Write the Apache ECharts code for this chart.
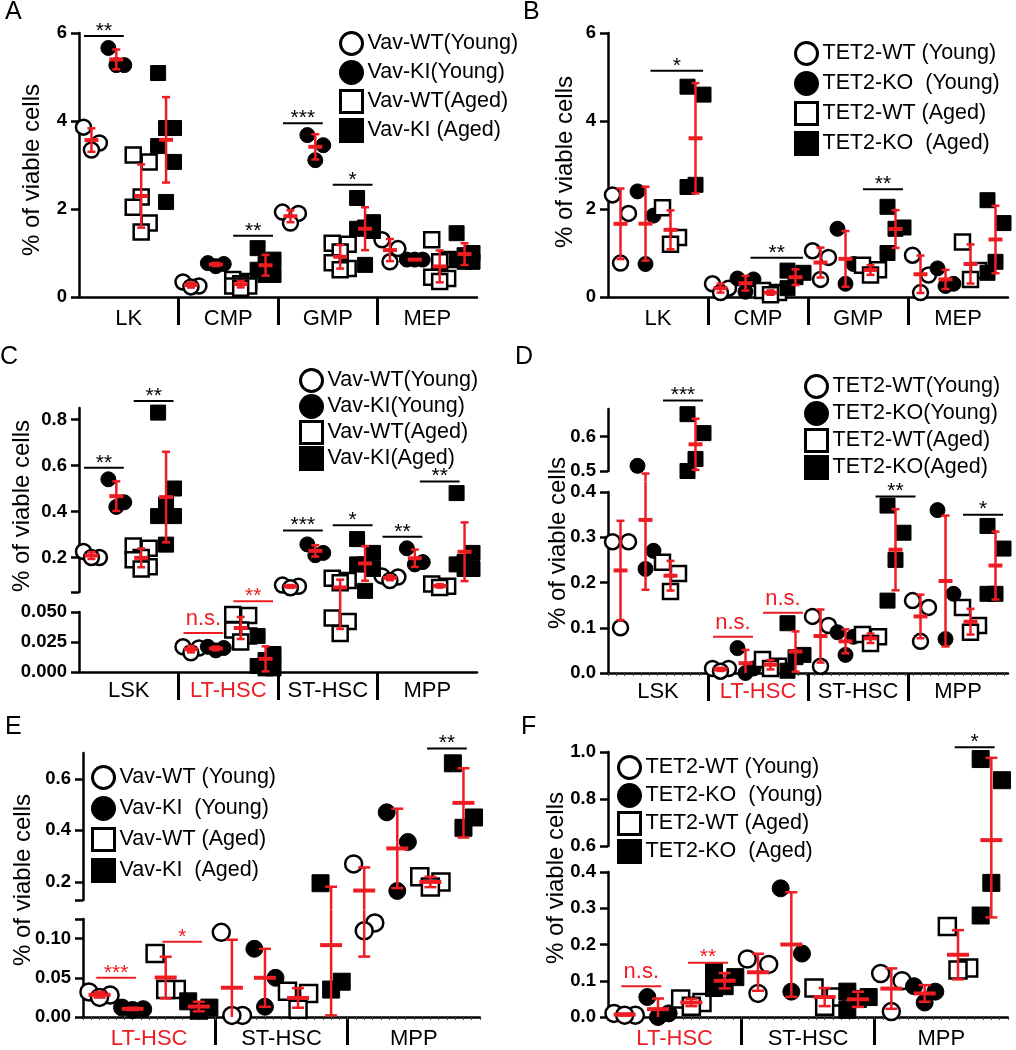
<!DOCTYPE html>
<html><head><meta charset="utf-8">
<script src="https://cdn.jsdelivr.net/npm/echarts@6/dist/echarts.min.js"></script>
<style>html,body{margin:0;padding:0;background:#fff}#c{width:1016px;height:1050px}</style>
</head><body><div id="c"></div>
<script>
// ---------------- DATA ----------------
// Panel A
const A_categories = ['LK','CMP','GMP','MEP'];
const A_legend = ['Vav-WT(Young)','Vav-KI(Young)','Vav-WT(Aged)','Vav-KI (Aged)'];
const A_wtYoung = [[3.86,3.34,3.5],[0.34,0.23,0.25],[1.93,1.9,1.68],[1.3,1.1,0.8]];
const A_kiYoung = [[5.66,5.27,5.27],[0.77,0.7,0.75],[3.68,3.45,3.11],[0.85,0.85,0.85]];
const A_wtAged  = [[3.07,3.23,2.27,2.04,1.68,1.48],[0.4,0.3,0.25,0.25,0.35,0.2],[1.22,1.2,1.02,0.78,0.62,0.65],[1.3,0.85,0.8,0.45,0.35,0.42]];
const A_kiAged  = [[5.09,3.84,3.84,3.43,3.07,2.16],[1.11,0.85,0.75,0.5,0.5,0.62],[2.25,1.7,1.58,1.55,1.5,0.73],[1.45,1.0,0.95,0.8,0.8,0.85]];
const A_yTickLabels = ['0','2','4','6'];
const A_sig = [[0,1,5.93,'**'],[6,7,1.39,'**'],[8,9,3.95,'***'],[10,11,2.55,'*']];

// Panel B
const B_categories = ['LK','CMP','GMP','MEP'];
const B_legend = ['TET2-WT (Young)','TET2-KO  (Young)','TET2-WT (Aged)','TET2-KO  (Aged)'];
const B_wtYoung = [[2.32,1.9,0.77],[0.3,0.1,0.2],[1.05,0.9,0.4],[0.95,0.5,0.1]];
const B_koYoung = [[2.4,1.85,0.75],[0.42,0.4,0.12],[1.55,0.75,0.3],[0.65,0.25,0.3]];
const B_wtAged  = [[2.03,1.35,1.2],[0.15,0.1,0.05],[0.72,0.62,0.5],[1.25,0.6,0.4]];
const B_koAged  = [[4.78,4.6,2.55,2.5],[0.6,0.55,0.45,0.2],[2.05,1.58,1.55,1.0],[2.2,1.68,0.8,0.55]];
const B_yTickLabels = ['0','2','4','6'];
const B_sig = [[1.5,3,5.14,'*'],[5.5,7,0.89,'**'],[10,11,2.45,'**']];

// Panel C
const C_categories = ['LSK','LT-HSC','ST-HSC','MPP'];
const C_legend = ['Vav-WT(Young)','Vav-KI(Young)','Vav-WT(Aged)','Vav-KI(Aged)'];
const C_wtYoung = [[0.226,0.2,0.2],[0.021,0.016,0.02],[0.08,0.068,0.075],[0.12,0.1,0.115]];
const C_kiYoung = [[0.54,0.44,0.42],[0.021,0.018,0.02],[0.257,0.21,0.22],[0.24,0.17,0.18]];
const C_wtAged  = [[0.25,0.24,0.2,0.19,0.16,0.15],[0.048,0.047,0.035,0.035,0.03,0.025],[0.11,0.1,0.09,0.045,0.042,0.032],[0.085,0.075,0.07]];
const C_kiAged  = [[0.83,0.5,0.43,0.38,0.38,0.256],[0.03,0.015,0.01,0.005,0.003,0.003],[0.28,0.22,0.17,0.17,0.15,0.055],[0.48,0.22,0.18,0.17,0.15,0.15]];
const C_yLowerLabels = ['0.000','0.025','0.050'];
const C_yUpperLabels = ['0.2','0.4','0.6','0.8'];
const C_sig = [[0,1,0.59,'**',1],[2,3,0.88,'**',1],[4,5,0.0325,'n.s.',0],[6,7,0.059,'**',0],[8,9,0.317,'***',1],[10,11,0.34,'*',1],[12,13,0.29,'**',1],[13.5,14.5,0.53,'**',1]];

// Panel D
const D_categories = ['LSK','LT-HSC','ST-HSC','MPP'];
const D_legend = ['TET2-WT(Young)','TET2-KO(Young)','TET2-WT(Aged)','TET2-KO(Aged)'];
const D_wtYoung = [[0.29,0.29,0.1],[0.01,0.004,0.01],[0.125,0.105,0.015],[0.16,0.145,0.07]];
const D_koYoung = [[0.515,0.27,0.23],[0.055,0.01,0.0],[0.09,0.08,0.04],[0.36,0.175,0.075]];
const D_wtAged  = [[0.245,0.22,0.18],[0.03,0.01,0.015],[0.085,0.08,0.065],[0.145,0.105,0.09]];
const D_koAged  = [[0.665,0.61,0.535,0.5],[0.11,0.04,0.035,0.005],[0.37,0.31,0.25,0.16],[0.325,0.275,0.175,0.175]];
const D_yLowerLabels = ['0.0','0.1','0.2','0.3','0.4'];
const D_yUpperLabels = ['0.5','0.6'];
const D_sig = [[2,3,0.705,'***',1],[4,5,0.08,'n.s.',0],[6,7,0.133,'n.s.',0],[10.5,11.5,0.39,'**',0],[14,15,0.35,'*',0]];

// Panel E
const E_categories = ['LT-HSC','ST-HSC','MPP'];
const E_legend = ['Vav-WT (Young)','Vav-KI  (Young)','Vav-WT (Aged)','Vav-KI  (Aged)'];
const E_wtYoung = [[0.032,0.025,0.028],[0.108,0.002,0.002],[0.27,0.11,0.12]];
const E_kiYoung = [[0.012,0.01,0.009],[0.087,0.05,0.013],[0.47,0.355,0.165]];
const E_wtAged  = [[0.081,0.035,0.035],[0.033,0.03,0.01],[0.22,0.2,0.18]];
const E_kiAged  = [[0.02,0.012,0.008],[0.195,0.045,0.035],[0.66,0.45,0.41]];
const E_yLowerLabels = ['0.00','0.05','0.10'];
const E_yUpperLabels = ['0.2','0.4','0.6'];
const E_sig = [[0,1,0.05,'***',0],[2,3,0.096,'*',0],[10,11,0.717,'**',1]];

// Panel F
const F_categories = ['LT-HSC','ST-HSC','MPP'];
const F_legend = ['TET2-WT (Young)','TET2-KO  (Young)','TET2-WT (Aged)','TET2-KO  (Aged)'];
const F_wtYoung = [[0.005,0.005,0.01],[0.16,0.145,0.065],[0.12,0.1,0.015]];
const F_koYoung = [[0.055,0.01,0.0],[0.355,0.175,0.07],[0.085,0.07,0.04]];
const F_wtAged  = [[0.05,0.04,0.03],[0.08,0.055,0.03],[0.25,0.13,0.135]];
const F_koAged  = [[0.125,0.11,0.085,0.08],[0.07,0.055,0.05,0.02],[0.97,0.88,0.37,0.28]];
const F_yLowerLabels = ['0.0','0.1','0.2','0.3','0.4'];
const F_yUpperLabels = ['0.6','0.8','1.0'];
const F_sig = [[0,1,0.085,'n.s.',0],[2,3,0.15,'**',0],[10,11,1.02,'*',1]];

// ---------------- LAYOUT / STYLE ----------------
const RED = '#ee1d23';
const FF = '"Liberation Sans", Arial, Helvetica, sans-serif';
const JIT = [-0.32, 0.32, 0];

const panels = [
  {key:'A', cats:A_categories, names:A_legend, groups:[A_wtYoung,A_kiYoung,A_wtAged,A_kiAged], sig:A_sig,
   left:79, width:398, segs:[{min:0,max:6,top:33,height:264,labels:A_yTickLabels}],
   title:[32,170], letter:[5,0], legend:{left:339,top:31,size:22,gap:4},
   sym:15, spread:1, pad:0.3, meanHalf:7, capHalf:4, minorStep:0, xLabelMargin:11},
  {key:'B', cats:B_categories, names:B_legend, groups:[B_wtYoung,B_koYoung,B_wtAged,B_koAged], sig:B_sig,
   left:608, width:400, segs:[{min:0,max:6,top:33,height:264,labels:B_yTickLabels}],
   title:[565,162], letter:[523,0], legend:{left:794,top:41,size:22,gap:5},
   sym:15, spread:1, pad:0.3, meanHalf:7, capHalf:4, minorStep:0, xLabelMargin:11},
  {key:'C', cats:C_categories, names:C_legend, groups:[C_wtYoung,C_kiYoung,C_wtAged,C_kiAged], sig:C_sig,
   left:79, width:398, segs:[{min:0,max:0.05,top:612,height:60,labels:C_yLowerLabels},
                             {min:0.05,max:0.85,top:408,height:184,labels:C_yUpperLabels,extraTicks:[0.05]}],
   title:[22,506], letter:[0,345], legend:{left:299,top:368,size:22,gap:1},
   sym:15, spread:1, pad:0.3, meanHalf:7, capHalf:4, minorStep:0, xLabelMargin:8},
  {key:'D', cats:D_categories, names:D_legend, groups:[D_wtYoung,D_koYoung,D_wtAged,D_koAged], sig:D_sig,
   left:608, width:400, segs:[{min:0,max:0.4,top:492,height:181,labels:D_yLowerLabels},
                              {min:0.5,max:0.68,top:409,height:62,labels:D_yUpperLabels}],
   title:[558,543], letter:[515,345], legend:{left:804,top:374,size:22,gap:2},
   sym:15, spread:1, pad:0.3, meanHalf:7, capHalf:4, minorStep:0.33, xLabelMargin:8},
  {key:'E', cats:E_categories, names:E_legend, groups:[E_wtYoung,E_kiYoung,E_wtAged,E_kiAged], sig:E_sig,
   left:83, width:397, segs:[{min:0,max:0.125,top:919,height:98,labels:E_yLowerLabels,extraTicks:[0.125]},
                             {min:0.13,max:0.7,top:753,height:147,labels:E_yUpperLabels,extraTicks:[0.13]}],
   title:[23,880], letter:[5,715], legend:{left:91,top:765,size:22,gap:6},
   sym:17, spread:1, pad:0.1, meanHalf:11, capHalf:6, minorStep:0.25, xLabelMargin:11},
  {key:'F', cats:F_categories, names:F_legend, groups:[F_wtYoung,F_koYoung,F_wtAged,F_koAged], sig:F_sig,
   left:608, width:400, segs:[{min:0,max:0.4,top:872,height:145,labels:F_yLowerLabels},
                              {min:0.6,max:1.0,top:752,height:94,labels:F_yUpperLabels}],
   title:[556,878], letter:[521,715], legend:{left:617,top:755,size:22,gap:3},
   sym:17, spread:1, pad:0.1, meanHalf:11, capHalf:6, minorStep:0.25, xLabelMargin:11}
];

function mean(a){return a.reduce((s,v)=>s+v,0)/a.length;}
function sd(a){const m=mean(a);return Math.sqrt(a.reduce((s,v)=>s+(v-m)*(v-m),0)/(a.length-1));}
function breakOf(p){ return p.segs.length<2 ? null : (p.segs[0].max+p.segs[1].min)/2; }
function segOf(p,v){ const t=breakOf(p); if(t===null) return 0; return v>=t?1:0; }

function errRender(p, si){
  const two = p.segs.length>1;
  const gap = two ? p.segs[0].top-(p.segs[1].top+p.segs[1].height) : 0;
  const t = breakOf(p);
  return function(params, api){
    const cs=params.coordSys; const gTop=cs.y, gBot=cs.y+cs.height;
    const x=api.value(0), m=api.value(1), lo=api.value(2), hi=api.value(3);
    const py=v=>api.coord([x,v])[1];
    const X=api.coord([x,m])[0];
    const inWin=v=>!two || (si===0 ? v<t : v>=t);
    const wTop = (two && si===0) ? gTop-gap/2 : gTop;
    const wBot = (two && si===1) ? gBot+gap/2 : gBot;
    const ch=[];
    let yA=null, yB=null;
    if(!two){ yA=Math.min(py(lo),gBot); yB=Math.max(py(hi),gTop); }
    else if(si===0){ if(lo<t){ yA=Math.min(py(lo),gBot); yB = hi>=t ? wTop : Math.max(py(hi),wTop); } }
    else { if(hi>=t){ yB=Math.max(py(hi),gTop); yA = lo<t ? wBot : Math.min(py(lo),wBot); } }
    if(yA!==null && yA>yB) ch.push({type:'line', shape:{x1:X,y1:yB,x2:X,y2:yA}, style:{stroke:RED,lineWidth:2.5}});
    const ok=v=>{ if(!inWin(v)) return false; const y=py(v); return y>=wTop-1 && y<=wBot+1; };
    [lo,hi].forEach(v=>{ if(ok(v)){ const y=py(v); ch.push({type:'line', shape:{x1:X-p.capHalf,y1:y,x2:X+p.capHalf,y2:y}, style:{stroke:RED,lineWidth:2.5}}); } });
    if(ok(m)){ const y=py(m); ch.push({type:'line', shape:{x1:X-p.meanHalf,y1:y,x2:X+p.meanHalf,y2:y}, style:{stroke:RED,lineWidth:4}}); }
    return {type:'group', children:ch};
  };
}
function sigRender(p, list){
  return function(params, api){
    const d=list[params.dataIndex];
    const a=api.coord([d[0], d[2]]), b=api.coord([d[1], d[2]]);
    const unit=api.size([1,0])[0];
    const x1=a[0]-p.pad*unit, x2=b[0]+p.pad*unit, y=a[1];
    const perCat=p.groups.length;
    const red = p.cats[Math.floor(d[0]/perCat)]==='LT-HSC';
    const col = red?RED:'#000';
    const ns = d[3]==='n.s.';
    return {type:'group', children:[
      {type:'line', shape:{x1:x1,y1:y,x2:x2,y2:y}, style:{stroke:col, lineWidth:2}},
      {type:'text', x:(x1+x2)/2, y:y-(ns?14:5), style:{text:d[3], fill:col, font:(ns?'22px ':'21px ')+FF,
        align:'center', verticalAlign:'middle', textAlign:'center', textVerticalAlign:'middle'}}
    ]};
  };
}

const grids=[], xAxes=[], yAxes=[], series=[], legends=[], graphics=[];

panels.forEach(p=>{
  const nG=p.groups.length, nCat=p.cats.length, N=nG*nCat;
  const xMin=-0.5, xMax=N-0.5;
  const seps=[]; for(let c=1;c<nCat;c++) seps.push(c*nG-0.5);
  const centers=p.cats.map((_,c)=>c*nG+(nG-1)/2);
  const catIdx=v=>Math.round((v-(nG-1)/2)/nG);
  const pts=p.groups.map(()=>[]); const stats=[];
  p.groups.forEach((arr,g)=>arr.forEach((vals,c)=>{
    const gx=c*nG+g;
    const order=vals.map((_,i)=>i).sort((i,j)=>vals[j]-vals[i]);
    order.forEach((i,k)=>pts[g].push([gx+JIT[k%3]*p.spread, vals[i]]));
    const m=mean(vals), s=sd(vals);
    stats.push([gx,m,m-s,m+s]);
  }));
  p.segs.forEach((s,si)=>{
    const gi=grids.length;
    grids.push({left:p.left, top:s.top, width:p.width, height:s.height});
    const bottom=si===0;
    const xi=xAxes.length;
    xAxes.push({type:'value', gridIndex:gi, position:'bottom', min:xMin, max:xMax,
      axisLine:{show:bottom, onZero:false, lineStyle:{color:'#000', width:2.5}},
      axisTick:{show:bottom, customValues:seps, length:28, lineStyle:{color:'#000', width:3}},
      axisLabel:{show:bottom, customValues:centers, margin:p.xLabelMargin,
        formatter:v=>{const n=p.cats[catIdx(v)]; return n==='LT-HSC'?'{r|'+n+'}':'{k|'+n+'}';},
        rich:{r:{color:RED,fontSize:22,fontFamily:FF}, k:{color:'#000',fontSize:22,fontFamily:FF}}},
      splitLine:{show:false}});
    if(bottom && p.minorStep){
      const mv=[]; for(let x=xMin;x<=xMax+1e-9;x+=p.minorStep) mv.push(+x.toFixed(4));
      xAxes.push({type:'value', gridIndex:gi, position:'bottom', min:xMin, max:xMax,
        axisLine:{show:false,onZero:false}, axisTick:{show:true, customValues:mv, length:3, lineStyle:{color:'#444', width:1}},
        axisLabel:{show:false}, splitLine:{show:false}});
    }
    const nums=s.labels.map(parseFloat);
    const yi=yAxes.length;
    yAxes.push({type:'value', gridIndex:gi, min:s.min, max:s.max,
      axisLine:{show:true,onZero:false,lineStyle:{color:'#000',width:2.5}},
      axisTick:{show:true, customValues:nums.concat(s.extraTicks||[]), length:8, lineStyle:{color:'#000',width:2.5}},
      axisLabel:{customValues:nums, margin:12, color:'#000', fontSize:18.5, fontWeight:'bold', fontFamily:FF,
        formatter:v=>{const i=nums.findIndex(n=>Math.abs(n-v)<1e-9); return i<0?'':s.labels[i];}},
      splitLine:{show:false}});
    p.groups.forEach((_,g)=>{
      const open=g%2===0, circ=g<2;
      series.push({type:'scatter', name:p.names[g], xAxisIndex:xi, yAxisIndex:yi, symbol:circ?'circle':'rect', symbolSize:p.sym,
        itemStyle:{color:open?'#fff':'#000', borderColor:'#000', borderWidth:open?2.5:1, opacity:1},
        data:pts[g].filter(d=>segOf(p,d[1])===si), z:2, clip:false, emphasis:{disabled:true}, silent:true});
    });
    series.push({type:'custom', xAxisIndex:xi, yAxisIndex:yi, data:stats, z:5, renderItem:errRender(p,si), silent:true});
    const sg=p.sig.filter(d=>(d[4]||0)===si);
    if(sg.length) series.push({type:'custom', xAxisIndex:xi, yAxisIndex:yi, data:sg.map(d=>[d[0],d[1],d[2]]), z:6, renderItem:sigRender(p,sg), silent:true});
  });
  legends.push({orient:'vertical', left:p.legend.left, top:p.legend.top, padding:0, itemWidth:p.legend.size, itemHeight:p.legend.size,
    itemGap:p.legend.gap, selectedMode:false, textStyle:{fontSize:21.5, color:'#000', fontFamily:FF},
    itemStyle:{borderColor:'#000', borderWidth:3},
    data:p.names.map((n,g)=>({name:n, icon:g<2?'circle':'rect'}))});
  graphics.push({type:'text', x:p.title[0], y:p.title[1], rotation:Math.PI/2,
    style:{text:'% of viable cells', font:'24px '+FF, fill:'#000', align:'center', verticalAlign:'middle', textAlign:'center', textVerticalAlign:'middle'}});
  graphics.push({type:'text', x:p.letter[0], y:p.letter[1],
    style:{text:p.key, font:'25px '+FF, fill:'#000', align:'left', verticalAlign:'top', textAlign:'left', textVerticalAlign:'top'}});
});

const chart=echarts.init(document.getElementById('c'), null, {renderer:'canvas'});
chart.setOption({animation:false, backgroundColor:'#fff', grid:grids, xAxis:xAxes, yAxis:yAxes, series:series, legend:legends, graphic:{elements:graphics}});
</script></body></html>
